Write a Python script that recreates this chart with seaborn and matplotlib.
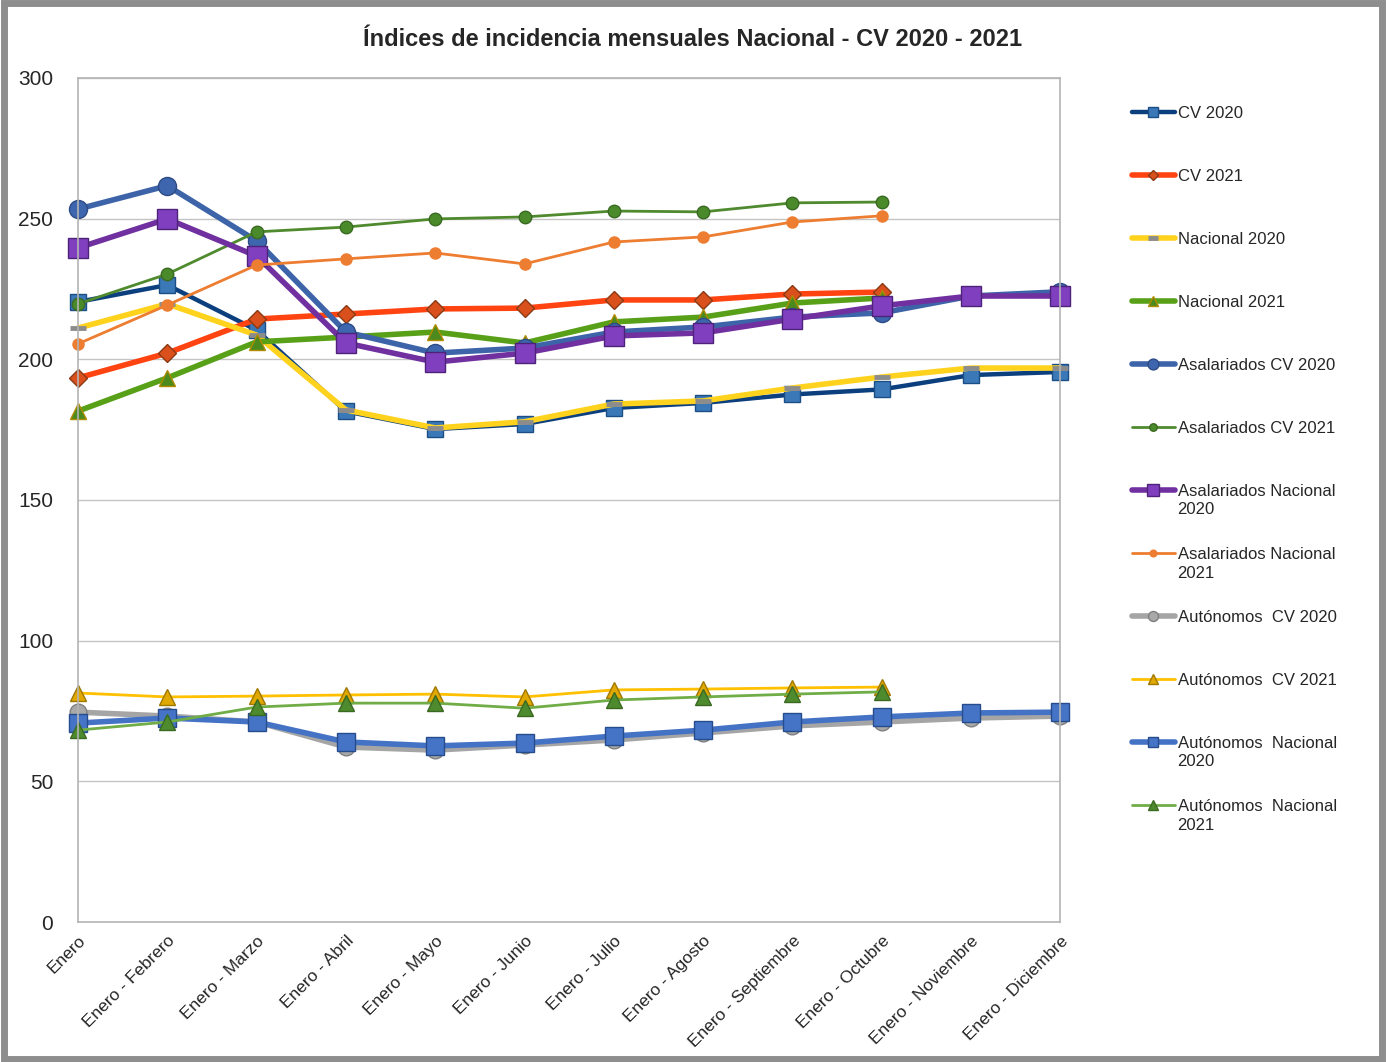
import numpy as np
import matplotlib
matplotlib.use('Agg')
import matplotlib.pyplot as plt
import seaborn as sns
from matplotlib.patches import Rectangle

# Datos
meses = ['Enero', 'Enero - Febrero', 'Enero - Marzo', 'Enero - Abril', 'Enero - Mayo',
         'Enero - Junio', 'Enero - Julio', 'Enero - Agosto', 'Enero - Septiembre',
         'Enero - Octubre', 'Enero - Noviembre', 'Enero - Diciembre']

cv_2020 = [220.4, 226.4, 210.4, 181.5, 175.2, 177.0, 182.7, 184.5, 187.5, 189.3, 194.4, 195.5]
cv_2021 = [193.4, 202.2, 214.3, 216.1, 217.9, 218.2, 221.1, 221.1, 223.2, 223.9]
nacional_2020 = [211.1, 219.7, 208.6, 182.0, 175.6, 177.8, 184.1, 185.2, 189.8, 193.7, 196.9, 196.9]
nacional_2021 = [181.6, 193.4, 206.2, 207.9, 209.7, 205.8, 213.3, 215.0, 220.0, 221.8]
asal_cv_2020 = [253.4, 261.7, 242.1, 209.7, 202.2, 204.0, 209.7, 211.5, 215.0, 216.5, 222.5, 224.0]
asal_cv_2021 = [219.7, 230.3, 245.3, 247.0, 249.9, 250.6, 252.7, 252.4, 255.6, 255.9]
asal_nac_2020 = [239.6, 249.9, 236.7, 205.8, 199.0, 202.2, 208.3, 209.4, 214.3, 219.0, 222.5, 222.5]
asal_nac_2021 = [205.5, 219.3, 233.5, 235.7, 237.8, 233.9, 241.7, 243.5, 248.8, 251.0]
aut_cv_2020 = [74.6, 73.2, 71.1, 62.2, 61.1, 62.9, 64.7, 67.2, 69.7, 71.1, 72.5, 73.2]
aut_cv_2021 = [81.4, 80.0, 80.3, 80.7, 81.0, 80.0, 82.5, 82.8, 83.2, 83.5]
aut_nac_2020 = [70.7, 72.5, 71.1, 64.0, 62.6, 63.6, 66.1, 68.2, 71.1, 72.9, 74.3, 74.6]
aut_nac_2021 = [68.2, 71.1, 76.4, 77.8, 77.8, 76.0, 78.9, 80.0, 81.0, 81.8]

series = [
    ('CV 2020', cv_2020),
    ('CV 2021', cv_2021),
    ('Nacional 2020', nacional_2020),
    ('Nacional 2021', nacional_2021),
    ('Asalariados CV 2020', asal_cv_2020),
    ('Asalariados CV 2021', asal_cv_2021),
    ('Asalariados Nacional\n2020', asal_nac_2020),
    ('Asalariados Nacional\n2021', asal_nac_2021),
    ('Autónomos  CV 2020', aut_cv_2020),
    ('Autónomos  CV 2021', aut_cv_2021),
    ('Autónomos  Nacional\n2020', aut_nac_2020),
    ('Autónomos  Nacional\n2021', aut_nac_2021),
]

# estilo de cada serie: color línea, grosor, marcador, tamaño, relleno, borde
estilos = [
    ('#0B3F7E', 3.2, 's', 11, '#3A78B8', '#1C4E86'),
    ('#FF4412', 4.0, 'D', 9, '#D9501C', '#8A3A14'),
    ('#FFD21E', 4.0, '_', 12, '#8C8C8C', '#8C8C8C'),
    ('#57A017', 4.0, '^', 12, '#4C8A1E', '#B08A00'),
    ('#3D64A8', 4.0, 'o', 13, '#3E66AE', '#2D4C86'),
    ('#4F8A2E', 2.0, 'o', 9, '#4A8A2A', '#3A6A22'),
    ('#7030A0', 4.0, 's', 14, '#7F3FBF', '#4E2278'),
    ('#ED7D31', 2.0, 'o', 8, '#ED7D31', '#ED7D31'),
    ('#A5A5A5', 4.0, 'o', 12, '#A8A8A8', '#808080'),
    ('#FFC000', 2.0, '^', 11, '#E0A800', '#A07800'),
    ('#4472C4', 4.0, 's', 13, '#4574C6', '#274C8C'),
    ('#70AD47', 2.0, '^', 11, '#4E8A2E', '#3A6A22'),
]

sns.set_style('white')
plt.rcParams['font.family'] = ['Liberation Sans', 'DejaVu Sans']

fig = plt.figure(figsize=(13.86, 10.62), dpi=100)
ax = fig.add_axes([0.0563, 0.1318, 0.7087, 0.7948])

handles = []
for (nombre, valores), (col, lw, mk, ms, mfc, mec) in zip(series, estilos):
    x = np.arange(len(valores))
    sns.lineplot(x=x, y=valores, ax=ax, color=col, linewidth=lw, marker=mk,
                 markersize=ms, markerfacecolor=mfc, markeredgecolor=mec,
                 markeredgewidth=3.5 if mk == '_' else 1.0, label=nombre, legend=False)
    ax.lines[-1].set_clip_on(False)
    handles.append(ax.lines[-1])

ax.set_xlim(0, len(meses) - 1)
ax.set_ylim(0, 300)
ax.set_yticks(range(0, 301, 50))
ax.set_xticks(range(len(meses)))
ax.set_xticklabels(meses, rotation=45, ha='right', rotation_mode='anchor', fontsize=12.5)
ax.tick_params(axis='y', labelsize=15, length=0, pad=18)
ax.tick_params(axis='x', length=0, pad=8)
ax.yaxis.grid(True, color='#C4C4C4', linewidth=1)
ax.set_axisbelow(True)
for s in ax.spines.values():
    s.set_color('#B4B4B4')
    s.set_linewidth(1.2)

fig.text(0.5, 0.963, 'Índices de incidencia mensuales Nacional - CV 2020 - 2021',
         ha='center', va='center', fontsize=17, fontweight='bold')

# leyenda: una entrada cada 63 px, la segunda línea del texto va debajo
for i, h in enumerate(handles):
    lineas = h.get_label().split('\n')
    y_px = 112 + 63 * i
    fig.legend(handles=[h], labels=[lineas[0]], loc='upper left',
               bbox_to_anchor=(0.8166, 1 - (y_px - 6) / 1062), frameon=False, fontsize=12,
               handlelength=2.6, handletextpad=0.15, borderpad=0, borderaxespad=0,
               markerscale=0.6)
    if len(lineas) > 1:
        fig.text(1177 / 1386, 1 - (y_px + 20) / 1062, lineas[1], fontsize=12,
                 ha='left', va='center')

# marco gris de la imagen
fig.patches.append(Rectangle((0.003, 0.003), 0.994, 0.994, transform=fig.transFigure,
                             fill=False, edgecolor='#8E8E8E', linewidth=5))

fig.savefig('out.png', dpi=100)
